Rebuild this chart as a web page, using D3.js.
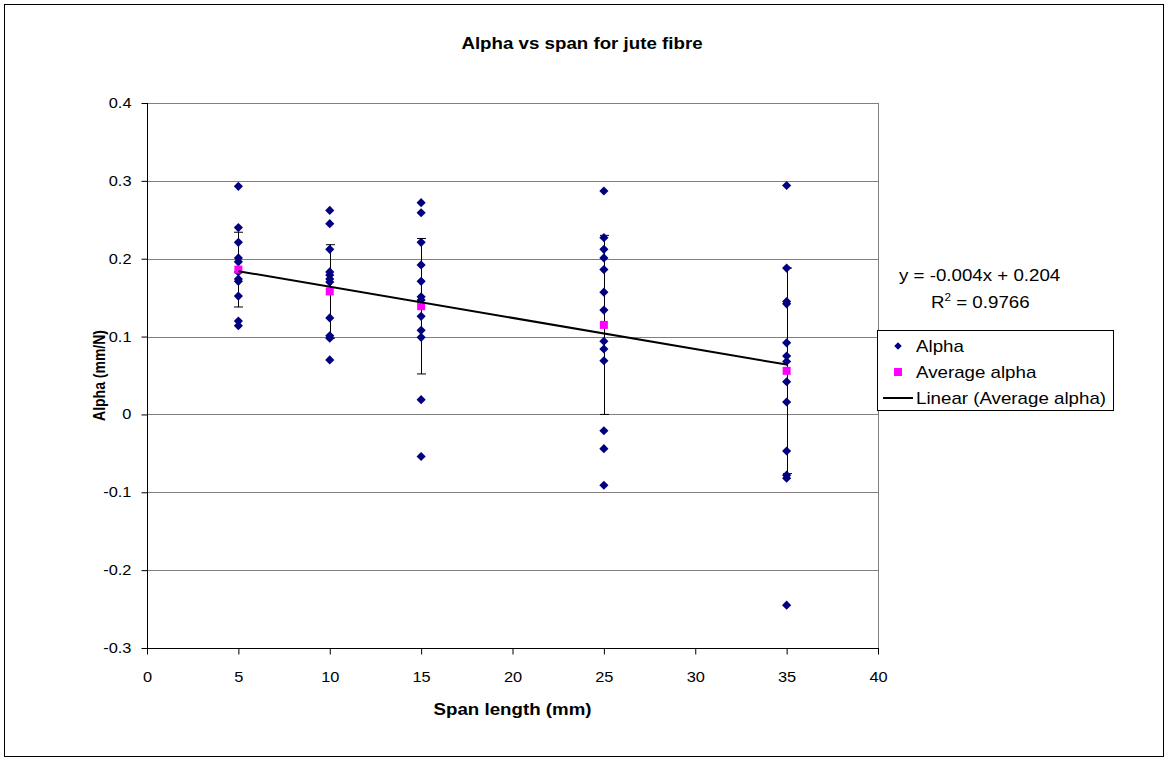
<!DOCTYPE html>
<html>
<head>
<meta charset="utf-8">
<script src="https://cdn.jsdelivr.net/npm/d3@7"></script>
<style>
  html, body { margin: 0; padding: 0; background: #fff; }
  svg { display: block; font-family: "Liberation Sans", Arial, sans-serif; }
</style>
</head>
<body>
<svg id="chart" width="1168" height="761"></svg>
<script>
// Span lengths tested (mm)
const spans = [5, 10, 15, 25, 35];

// Individual alpha measurements (mm/N) at each span
const alpha5  = [0.293, 0.240, 0.221, 0.201, 0.196, 0.183, 0.174, 0.171, 0.152, 0.120, 0.114];
const alpha10 = [0.262, 0.245, 0.212, 0.183, 0.179, 0.174, 0.170, 0.124, 0.101, 0.098, 0.070];
const alpha15 = [0.272, 0.259, 0.221, 0.192, 0.171, 0.151, 0.147, 0.126, 0.108, 0.099, 0.019, -0.054];
const alpha25 = [0.287, 0.227, 0.212, 0.201, 0.186, 0.157, 0.134, 0.094, 0.084, 0.069, -0.021, -0.044, -0.091];
const alpha35 = [0.294, 0.188, 0.145, 0.142, 0.092, 0.075, 0.068, 0.042, 0.016, -0.047, -0.078, -0.082, -0.245];

// Mean alpha per span and its error bar half-width
const averageAlpha = [0.186, 0.158, 0.139, 0.115, 0.056];
const errorAlpha   = [0.048, 0.060, 0.087, 0.115, 0.132];

// Linear trend of the averages
const trendSlope = -0.004;
const trendIntercept = 0.204;
const trendR2 = 0.9766;

// Axis ticks
const xTicks = [0, 5, 10, 15, 20, 25, 30, 35, 40];
const yTicks = [-0.3, -0.2, -0.1, 0, 0.1, 0.2, 0.3, 0.4];

const alphaBySpan = [alpha5, alpha10, alpha15, alpha25, alpha35];
const alphaPoints = spans.flatMap((s, i) => alphaBySpan[i].map(v => ({ x: s, y: v })));
const avgPoints = spans.map((s, i) => ({ x: s, y: averageAlpha[i], e: errorAlpha[i] }));

const svg = d3.select("#chart");
const plot = { left: 147, top: 103, right: 878, bottom: 648 };
const SX = 1.17;           // horizontal stretch of the chart's lettering

const x = d3.scaleLinear().domain([0, 40]).range([plot.left, plot.right]);
const y = d3.scaleLinear().domain([-0.3, 0.4]).range([plot.bottom, plot.top]);

const NAVY = "#000080", MAGENTA = "#FF00FF", GRID = "#808080";

// Text placed at (tx, ty) with the wide lettering
function label(parent, tx, ty, str, size, opts = {}) {
  const t = parent.append("text")
    .attr("transform", `translate(${tx},${ty}) scale(${SX},1)` + (opts.rotate ? ` rotate(${opts.rotate})` : ""))
    .attr("font-size", size)
    .attr("text-anchor", opts.anchor || "start")
    .attr("font-weight", opts.bold ? "bold" : "normal");
  if (str !== null) t.text(str);
  return t;
}

// Outer chart frame
svg.append("rect")
  .attr("x", 4.5).attr("y", 4.5).attr("width", 1159).attr("height", 752)
  .attr("fill", "#fff").attr("stroke", "#000").attr("stroke-width", 1);

// Title
label(svg, 582, 49, "Alpha vs span for jute fibre", 16, { anchor: "middle", bold: true });

// Plot area border
svg.append("rect")
  .attr("x", plot.left + 0.5).attr("y", plot.top + 0.5)
  .attr("width", plot.right - plot.left).attr("height", plot.bottom - plot.top)
  .attr("fill", "none").attr("stroke", GRID).attr("stroke-width", 1);

// Horizontal gridlines
svg.append("g").selectAll("line")
  .data(yTicks.filter(t => t > -0.3))
  .join("line")
  .attr("x1", plot.left).attr("x2", plot.right)
  .attr("y1", d => Math.round(y(d)) + 0.5).attr("y2", d => Math.round(y(d)) + 0.5)
  .attr("stroke", GRID).attr("stroke-width", 1);

// Axes
const yAxis = svg.append("g")
  .attr("transform", `translate(${plot.left + 0.5},0)`)
  .call(d3.axisLeft(y).tickValues(yTicks).tickSize(6).tickPadding(7.7)
    .tickFormat(d => String(+d.toFixed(1))));
const xAxis = svg.append("g")
  .attr("transform", `translate(0,${plot.bottom + 0.5})`)
  .call(d3.axisBottom(x).tickValues(xTicks).tickSize(6).tickPadding(18));
[xAxis, yAxis].forEach(a => {
  a.select(".domain").remove();
  a.selectAll(".tick line").attr("stroke", "#000");
  a.selectAll(".tick text").attr("font-size", 14).attr("fill", "#000")
    .attr("font-family", "Liberation Sans, Arial, sans-serif")
    .attr("transform", `scale(${SX},1)`);
});
// Axis lines
svg.append("line").attr("x1", plot.left + 0.5).attr("x2", plot.left + 0.5)
  .attr("y1", plot.top).attr("y2", plot.bottom + 1).attr("stroke", "#000");
svg.append("line").attr("x1", plot.left).attr("x2", plot.right + 1)
  .attr("y1", plot.bottom + 0.5).attr("y2", plot.bottom + 0.5).attr("stroke", "#000");

// Axis titles
label(svg, (plot.left + plot.right) / 2, 715, "Span length (mm)", 16, { anchor: "middle", bold: true });
label(svg, 105, (plot.top + plot.bottom) / 2, "Alpha (mm/N)", 14, { anchor: "middle", bold: true, rotate: -90 });

// Error bars on the averages
const eb = svg.append("g").attr("stroke", "#000").attr("stroke-width", 1);
avgPoints.forEach(d => {
  const cx = Math.round(x(d.x)) + 0.5;
  const top = y(d.y + d.e), bot = y(d.y - d.e);
  eb.append("line").attr("x1", cx).attr("x2", cx).attr("y1", top).attr("y2", bot);
  eb.append("line").attr("x1", cx - 4.5).attr("x2", cx + 4.5).attr("y1", top).attr("y2", top);
  eb.append("line").attr("x1", cx - 4.5).attr("x2", cx + 4.5).attr("y1", bot).attr("y2", bot);
});

// Individual measurements: navy diamonds
svg.append("g").selectAll("path")
  .data(alphaPoints)
  .join("path")
  .attr("d", d3.symbol().type(d3.symbolSquare).size(42))
  .attr("transform", d => `translate(${x(d.x)},${y(d.y)}) rotate(45)`)
  .attr("fill", NAVY);

// Averages: magenta squares
svg.append("g").selectAll("rect")
  .data(avgPoints)
  .join("rect")
  .attr("x", d => x(d.x) - 4).attr("y", d => y(d.y) - 4)
  .attr("width", 8).attr("height", 8)
  .attr("fill", MAGENTA);

// Linear trend line across the span range
const trendX = d3.extent(spans);
svg.append("line")
  .attr("x1", x(trendX[0])).attr("y1", y(trendSlope * trendX[0] + trendIntercept))
  .attr("x2", x(trendX[1])).attr("y2", y(trendSlope * trendX[1] + trendIntercept))
  .attr("stroke", "#000").attr("stroke-width", 2);

// Trend equation
label(svg, 899, 281, `y = ${trendSlope}x + ${trendIntercept}`, 16);
const r2 = label(svg, 931, 308, null, 16);
r2.append("tspan").text("R");
r2.append("tspan").attr("dy", -7).attr("font-size", 10).text("2");
r2.append("tspan").attr("dy", 7).text(` = ${trendR2}`);

// Legend
const lg = svg.append("g").attr("transform", "translate(877,330)");
lg.append("rect").attr("x", 0.5).attr("y", 0.5).attr("width", 236).attr("height", 80)
  .attr("fill", "#fff").attr("stroke", "#000");
const items = [
  { label: "Alpha", kind: "diamond" },
  { label: "Average alpha", kind: "square" },
  { label: "Linear (Average alpha)", kind: "line" }
];
items.forEach((it, i) => {
  const cy = 16 + i * 26;
  if (it.kind === "diamond") {
    lg.append("path").attr("d", d3.symbol().type(d3.symbolSquare).size(28)())
      .attr("transform", `translate(21,${cy}) rotate(45)`).attr("fill", NAVY);
  } else if (it.kind === "square") {
    lg.append("rect").attr("x", 17).attr("y", cy - 4).attr("width", 8).attr("height", 8).attr("fill", MAGENTA);
  } else {
    lg.append("line").attr("x1", 6).attr("x2", 36).attr("y1", cy).attr("y2", cy)
      .attr("stroke", "#000").attr("stroke-width", 2);
  }
  label(lg, 39, cy + 6, it.label, 16);
});
</script>
</body>
</html>
